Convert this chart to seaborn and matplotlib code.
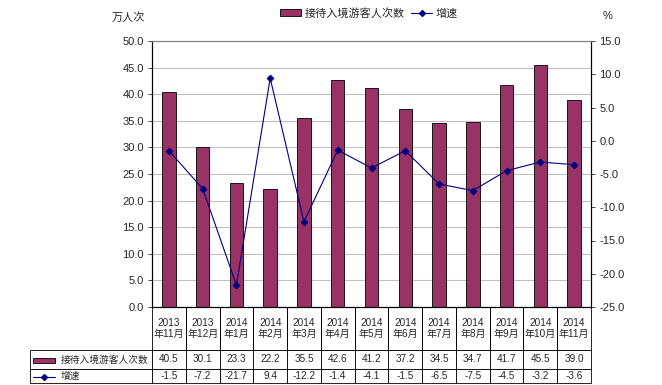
import numpy as np
import pandas as pd
import matplotlib
matplotlib.use("Agg")
import matplotlib.pyplot as plt
import seaborn as sns
from matplotlib.patches import Patch, Rectangle
from matplotlib.lines import Line2D

# 数据
months = ["2013\n年11月", "2013\n年12月", "2014\n年1月", "2014\n年2月", "2014\n年3月",
          "2014\n年4月", "2014\n年5月", "2014\n年6月", "2014\n年7月", "2014\n年8月",
          "2014\n年9月", "2014\n年10月", "2014\n年11月"]
visitors = [40.5, 30.1, 23.3, 22.2, 35.5, 42.6, 41.2, 37.2, 34.5, 34.7, 41.7, 45.5, 39.0]
growth = [-1.5, -7.2, -21.7, 9.4, -12.2, -1.4, -4.1, -1.5, -6.5, -7.5, -4.5, -3.2, -3.6]
bar_label = "接待入境游客人次数"
line_label = "增速"

BAR_COLOR = "#993366"
LINE_COLOR = "#000080"

sns.set_style("white")
plt.rcParams["font.family"] = ["Liberation Sans", "Noto Sans CJK SC"]

W, H = 662, 385
# 绘图区像素位置
L, R, T, B = 152, 591, 41, 307
PW, PH = R - L, B - T

fig = plt.figure(figsize=(W / 100, H / 100), dpi=100)
ax = fig.add_axes([L / W, 1 - B / H, PW / W, PH / H])

df = pd.DataFrame({"month": months, "visitors": visitors, "growth": growth})

ax.set_axisbelow(True)
ax.yaxis.grid(True, color="#c0c0c0", linewidth=0.8)
sns.barplot(data=df, x="month", y="visitors", order=months, color=BAR_COLOR,
            saturation=1, width=0.4, edgecolor="black", linewidth=0.6, ax=ax)

ax2 = ax.twinx()
sns.pointplot(data=df, x="month", y="growth", order=months, color=LINE_COLOR,
              markers="D", markersize=3.5, linewidth=0.8, errorbar=None, ax=ax2)

ax.set_ylim(0, 50)
ax.set_yticks(np.arange(0, 50.1, 5))
ax.set_yticklabels([f"{v:.1f}" for v in np.arange(0, 50.1, 5)])
ax2.set_ylim(-25, 15)
ax2.set_yticks(np.arange(-25, 15.1, 5))
ax2.set_yticklabels([f"{v:.1f}" for v in np.arange(-25, 15.1, 5)])
ax.set_xlim(-0.5, len(months) - 0.5)
ax.set_xticks([])
ax.set_xlabel("")
ax.set_ylabel("")
ax2.set_ylabel("")
ax2.set_xlabel("")

for a in (ax, ax2):
    a.tick_params(axis="y", labelsize=8, length=3, width=0.6, direction="out", pad=3)
    for side in a.spines:
        a.spines[side].set_linewidth(0.8)
        a.spines[side].set_color("black")
    a.spines["top"].set_color("#808080")
ax.tick_params(axis="y", left=True)
ax2.tick_params(axis="y", right=True)

# 数据表
header = [""] + months
row1 = [bar_label] + [f"{v:.1f}" for v in visitors]
row2 = [line_label] + [f"{v:.1f}" for v in growth]
first_w = 122 / PW
tbl_h = (383 - B) / PH
tbl = ax.table(cellText=[header, row1, row2],
               colWidths=[first_w] + [1 / len(months)] * len(months),
               cellLoc="center",
               bbox=[-first_w, -tbl_h, 1 + first_w, tbl_h])
tbl.auto_set_font_size(False)
tbl.set_fontsize(7.2)
row_h = [43, 19, 14]
for (r, c), cell in tbl.get_celld().items():
    cell.set_height(row_h[r] / PH)
    cell.set_linewidth(0.6)
    cell.set_edgecolor("black")
    if r == 0:
        cell.visible_edges = "" if c == 0 else "BLR"
    if c == 0 and r > 0:
        cell._loc = "left"
        cell.PAD = 0.25
        cell.get_text().set_ha("left")
        cell.get_text().set_fontsize(7)

# 表格中的图例符号
fig.patches.append(Rectangle((33 / W, 1 - 362.5 / H), 22 / W, 5 / H, transform=fig.transFigure,
                             facecolor=BAR_COLOR, edgecolor="black", linewidth=0.6))
fig.lines.append(Line2D([33 / W, 44 / W, 55 / W], [1 - 377 / H] * 3, transform=fig.transFigure,
                        color=LINE_COLOR, linewidth=0.8, marker="D", markersize=3,
                        markevery=[1]))

handles = [Patch(facecolor=BAR_COLOR, edgecolor="black", linewidth=0.6),
           Line2D([], [], color=LINE_COLOR, linewidth=0.8, marker="D", markersize=3)]
fig.legend(handles, [bar_label, line_label], loc="center", bbox_to_anchor=(369 / W, 1 - 13 / H),
           ncol=2, frameon=False, fontsize=8, handlelength=1.9, handleheight=0.6,
           columnspacing=0.6, handletextpad=0.3)

fig.text(128 / W, 1 - 17 / H, "万人次", ha="center", va="center", fontsize=8)
fig.text(608 / W, 1 - 16 / H, "%", ha="center", va="center", fontsize=8)

fig.savefig("out.png", dpi=100)
